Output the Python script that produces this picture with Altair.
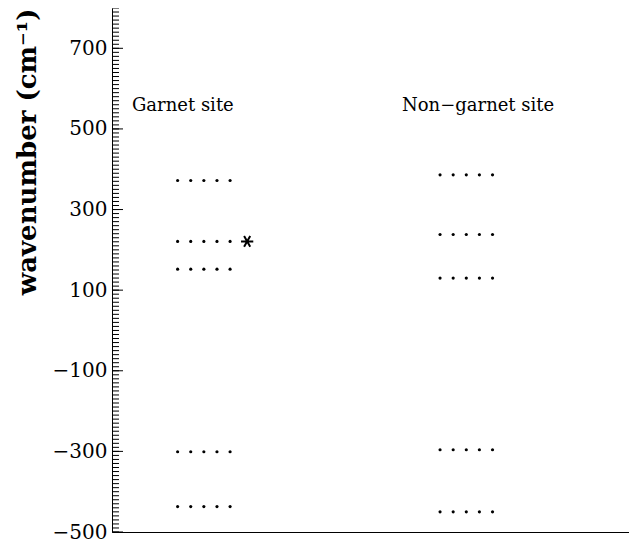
import altair as alt
import pandas as pd

# --- data ---
site_names = ["Garnet site", "Non−garnet site"]
garnet_levels = [372, 221, 152, -301, -437]
nongarnet_levels = [386, 238, 130, -296, -450]
garnet_dot_x = [5, 6, 7, 8, 9]
nongarnet_dot_x = [25, 26, 27, 28, 29]
label_x = [5.4, 27.9]
label_y = [556, 556]
star_x = [10.3]
star_y = [221]
major_ticks = [700, 500, 300, 100, -100, -300, -500]
minor_ticks = list(range(-500, 801, 10))

rows = []
for lv in garnet_levels:
    for xx in garnet_dot_x:
        rows.append({"x": xx, "y": lv, "site": site_names[0]})
for lv in nongarnet_levels:
    for xx in nongarnet_dot_x:
        rows.append({"x": xx, "y": lv, "site": site_names[1]})
dots = pd.DataFrame(rows)
labels = pd.DataFrame({"x": label_x, "y": label_y, "t": site_names})
star = pd.DataFrame({"x": star_x, "y": star_y})
minor = pd.DataFrame({"y": minor_ticks})
major = pd.DataFrame({"y": major_ticks})

FONT = "DejaVu Serif"
xs = alt.Scale(domain=[0, 39.4], nice=False, zero=False)
ys = alt.Scale(domain=[-500, 800], nice=False, zero=False)

yaxis = alt.Axis(
    values=major_ticks, ticks=False, grid=False, domainColor="black",
    labelFont=FONT, labelFontSize=20, labelColor="black", labelPadding=5,
    title="wavenumber (cm⁻¹)", titleFont=FONT, titleFontSize=26,
    titleFontWeight="bold", titleColor="black", titleAnchor="end",
    titlePadding=12,
)
xaxis = alt.Axis(labels=False, ticks=False, grid=False, title=None,
                 domainColor="black")

base_dots = alt.Chart(dots).mark_circle(size=10, color="black", opacity=1).encode(
    x=alt.X("x:Q", scale=xs, axis=xaxis),
    y=alt.Y("y:Q", scale=ys, axis=yaxis),
)

minor_rules = alt.Chart(minor).mark_rule(color="black", strokeWidth=1).encode(
    y=alt.Y("y:Q", scale=ys), x=alt.value(0), x2=alt.value(7)
)
major_rules = alt.Chart(major).mark_rule(color="black", strokeWidth=1).encode(
    y=alt.Y("y:Q", scale=ys), x=alt.value(0), x2=alt.value(11)
)

text = alt.Chart(labels).mark_text(
    font=FONT, fontSize=18, color="black", baseline="middle", align="center"
).encode(x=alt.X("x:Q", scale=xs), y=alt.Y("y:Q", scale=ys), text="t:N")

star_shape = "M-1,0L1,0M-0.5,-0.87L0.5,0.87M-0.5,0.87L0.5,-0.87"
stars = alt.Chart(star).mark_point(
    shape=star_shape, filled=False, color="black", strokeWidth=2, size=150, opacity=1
).encode(x=alt.X("x:Q", scale=xs), y=alt.Y("y:Q", scale=ys))

chart = alt.layer(base_dots, minor_rules, major_rules, text, stars).properties(
    width=517, height=524,
    background="white",
    autosize=alt.AutoSizeParams(type="none"),
    padding={"left": 104, "top": 0, "right": 0, "bottom": 11},
).configure_view(strokeWidth=0, stroke="transparent")

chart.save("out.html", embed_options={"renderer": "svg", "actions": False})
